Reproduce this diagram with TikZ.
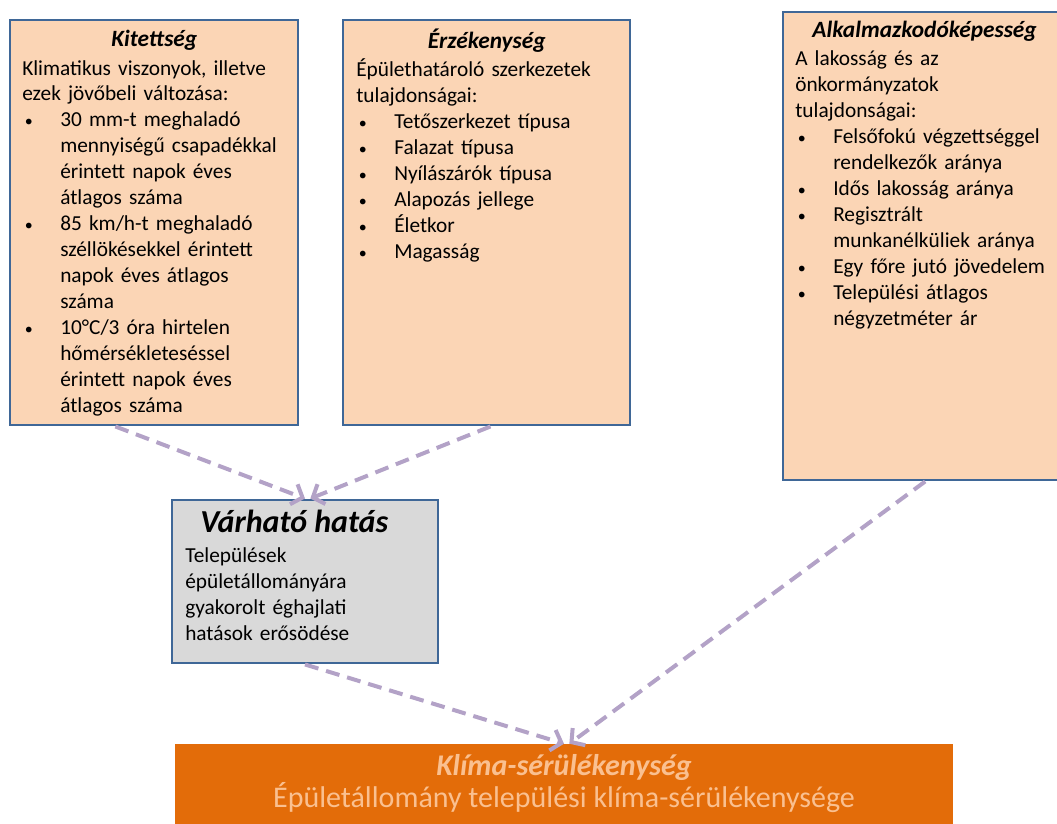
\documentclass[tikz,border=0pt]{standalone}
\usepackage{fontspec}
\setmainfont{Carlito}
\usetikzlibrary{arrows.meta,positioning}
\definecolor{keret}{HTML}{3F6797}
\definecolor{barack}{HTML}{FBD5B5}
\definecolor{szurke}{HTML}{D9D9D9}
\definecolor{narancs}{HTML}{E36C09}
\definecolor{halvany}{HTML}{FAC090}
\definecolor{lila}{HTML}{B3A2C7}
\newcommand{\pont}[1]{\par\hangindent=28.5pt\hangafter=1\noindent\makebox[28.5pt][l]{\hspace{2pt}{\fontsize{12}{12}\selectfont\textbullet}}#1\par}
\newcommand{\cim}[1]{{\centering\fontsize{17.5}{19.5}\selectfont\bfseries\itshape #1\par}\vspace{1.5pt}}
\begin{document}
\begin{tikzpicture}[x=0.75pt,y=-0.75pt,
    doboz/.style={draw=keret,line width=2.2pt,fill=barack,inner sep=0pt},
    szoveg/.style={anchor=base west,inner sep=0pt,align=left,font=\fontsize{16}{19.5}\selectfont},
    nyil/.style={draw=lila,line width=3pt,dash pattern=on 10.5pt off 6pt,-{Straight Barb[length=7pt,width=16pt]}}]
    \useasboundingbox (0,0) rectangle (1057,824);
    \node[doboz, minimum width=216pt, minimum height=303.75pt] (kit) at (154,222.5) {}; %kitettseg
    \node[doboz, minimum width=215.25pt, minimum height=303.75pt] (erz) at (486.5,222.5) {}; %erzekenyseg
    \node[doboz, minimum width=209.25pt, minimum height=351pt] (alk) at (922.5,246) {}; %alkalmazkodo
    \node[doboz, fill=szurke, minimum width=199.5pt, minimum height=122.25pt] (var) at (305,581.5) {}; %varhato hatas
    \node[fill=narancs, inner sep=0pt, minimum width=583.5pt, minimum height=69pt] (klima) at (564,790) {}; %klima
    \node[szoveg, text width=198pt] (kit-t) at (22,47) {\cim{Kitettség}
        Klimatikus viszonyok, illetve\newline ezek jövőbeli változása:
        \pont{30 mm-t meghaladó\newline mennyiségű csapadékkal\newline érintett napok éves\newline átlagos száma}
        \pont{85 km/h-t meghaladó\newline széllökésekkel érintett\newline napok éves átlagos\newline száma}
        \pont{10°C/3 óra hirtelen\newline hőmérsékleteséssel\newline érintett napok éves\newline átlagos száma}};
    \node[szoveg, text width=195.75pt] (erz-t) at (356,49) {\cim{Érzékenység}
        Épülethatároló szerkezetek\newline tulajdonságai:
        \pont{Tetőszerkezet típusa}
        \pont{Falazat típusa}
        \pont{Nyílászárók típusa}
        \pont{Alapozás jellege}
        \pont{Életkor}
        \pont{Magasság}};
    \node[szoveg, text width=194pt] (alk-t) at (795,38) {\cim{Alkalmazkodóképesség}
        A lakosság és az\newline önkormányzatok\newline tulajdonságai:
        \pont{Felsőfokú végzettséggel\newline rendelkezők aránya}
        \pont{Idős lakosság aránya}
        \pont{Regisztrált\newline munkanélküliek aránya}
        \pont{Egy főre jutó jövedelem}
        \pont{Települési átlagos\newline négyzetméter ár}};
    \node[szoveg, text width=163.5pt] (var-t) at (185,532) {{\centering\fontsize{24}{24}\selectfont\bfseries\itshape Várható hatás\par}\vspace{3pt}
        Települések\newline épületállományára\newline gyakorolt éghajlati\newline hatások erősödése\par};
    \node[anchor=base, inner sep=0pt, align=center, text=halvany, font=\fontsize{22.5}{24}\selectfont] (klima-t) at (564,807) {{\bfseries\itshape Klíma-sérülékenység}\\ Épületállomány települési klíma-sérülékenysége};
    \draw[nyil] ([xshift=-29pt]kit.south) -- (var.north);
    \draw[nyil] ([xshift=3pt]erz.south) -- ([xshift=4pt]var.north);
    \draw[nyil] ([xshift=2pt]alk.south) -- ([xshift=4pt]klima.north);
    \draw[nyil] (var.south) -- (klima.north);
\end{tikzpicture}
\end{document}
